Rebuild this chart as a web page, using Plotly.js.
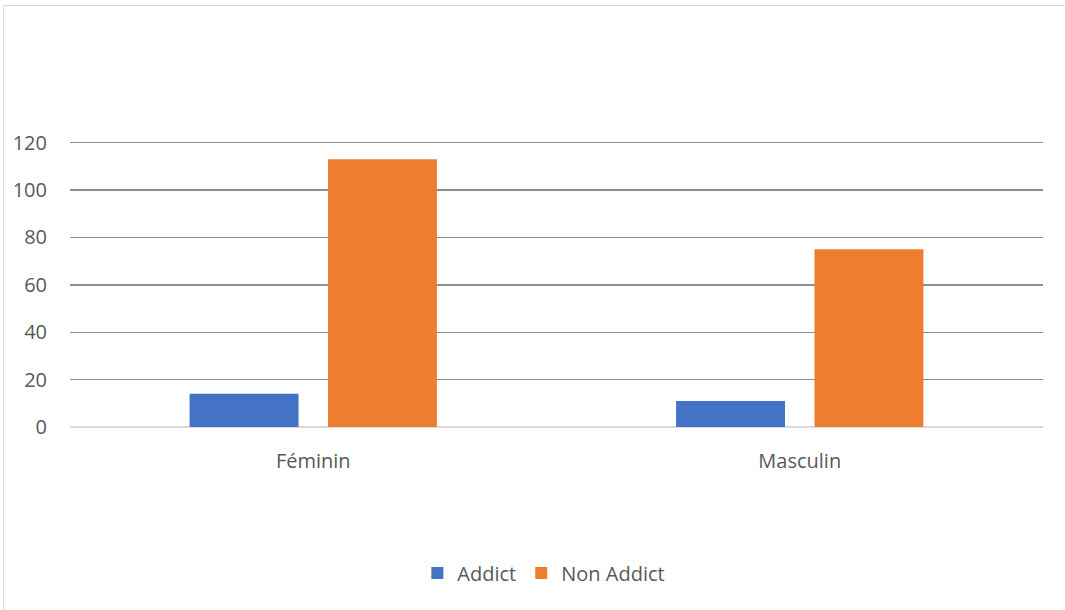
<!DOCTYPE html>
<html>
<head>
<meta charset="utf-8">
<script src="https://cdn.plot.ly/plotly-3.0.1.min.js"></script>
<style>
html,body{margin:0;padding:0;background:#fff;}
#wrap{position:relative;width:1065px;height:610px;overflow:hidden;}
#chart{position:absolute;left:0;top:0;width:1065px;height:610px;}
#frame{position:absolute;left:3px;top:5px;width:1070px;height:620px;border-left:1px solid #d9d9d9;border-top:1px solid #d9d9d9;pointer-events:none;}
</style>
</head>
<body>
<div id="wrap"><div id="chart"></div><div id="frame"></div></div>
<script>
const categories = ["Féminin", "Masculin"];
const addict = [14, 11];
const nonAddict = [113, 75];
const yTicks = [0, 20, 40, 60, 80, 100, 120];

const font = {family: "Open Sans, Liberation Sans, sans-serif", size: 20, color: "#595959"};

const data = [
  {type: "bar", name: "Addict", x: categories, y: addict, marker: {color: "#4472C4"}, hoverinfo: "x+y+name"},
  {type: "bar", name: "Non Addict", x: categories, y: nonAddict, marker: {color: "#ED7D31"}, hoverinfo: "x+y+name"}
];

const layout = {
  width: 1065, height: 610,
  margin: {l: 70, r: 22, t: 138, b: 183},
  paper_bgcolor: "#fff", plot_bgcolor: "#fff",
  font: font,
  barmode: "group",
  bargap: 0.431,
  bargroupgap: 0.213,
  showlegend: true,
  legend: {orientation: "h", x: 0.487, xanchor: "center", y: -0.505, yanchor: "middle", font: font, itemwidth: 30, traceorder: "normal"},
  xaxis: {type: "category", range: [-0.5, 1.5], showgrid: false, showline: false, zeroline: false, ticks: "", ticklabelstandoff: 20, tickfont: font, fixedrange: true},
  yaxis: {range: [0, 122], tickvals: yTicks, ticktext: yTicks.map(String), showgrid: true, gridcolor: "#8f8f8f", gridwidth: 1.5,
          zeroline: true, zerolinecolor: "#d9d9d9", zerolinewidth: 1.5, showline: false, ticks: "", ticklabelstandoff: 22, tickfont: font, fixedrange: true}
};

Plotly.newPlot("chart", data, layout, {displayModeBar: false, staticPlot: true});
</script>
</body>
</html>
